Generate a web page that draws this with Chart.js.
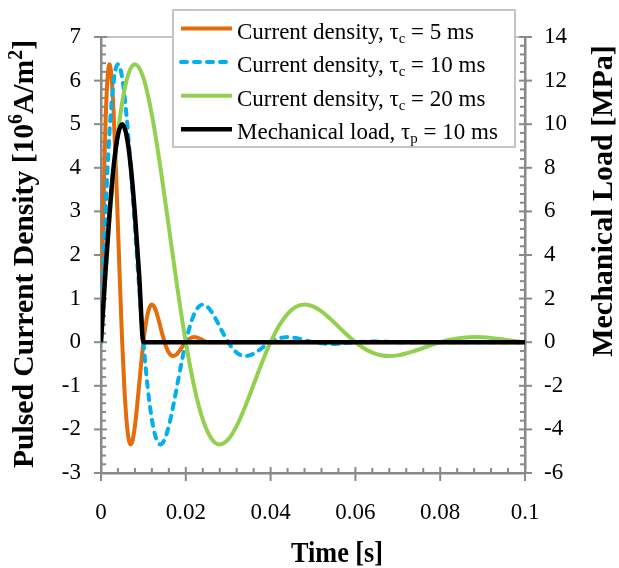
<!DOCTYPE html>
<html>
<head>
<meta charset="utf-8">
<script src="https://cdn.jsdelivr.net/npm/chart.js@4.4.1/dist/chart.umd.min.js"></script>
<style>
  html, body { margin: 0; padding: 0; background: #fff; }
</style>
</head>
<body>
<canvas id="pulseChart" width="619" height="568"></canvas>
<script>
// time in ms, current density in 10^6 A/m^2, load in MPa
const timeC5Ms = [0, 0.5, 1, 1.5, 2, 2.5, 3, 3.5, 4, 4.5,
  5, 5.5, 6, 6.5, 7, 7.5, 8, 8.5, 9, 9.5,
  10, 10.5, 11, 11.5, 12, 12.5, 13, 13.5, 14, 14.5,
  15, 15.5, 16, 16.5, 17, 17.5, 18, 18.5, 19, 19.5,
  20, 20.5, 21, 21.5, 22, 22.5, 23, 23.5, 24, 24.5,
  25, 100];
const jC5 = [0, 2.796, 4.812, 5.993, 6.375, 6.065, 5.219, 4.017, 2.641, 1.256,
  0, -1.029, -1.770, -2.205, -2.345, -2.231, -1.920, -1.478, -0.972, -0.462,
  0, 0.378, 0.651, 0.811, 0.863, 0.821, 0.706, 0.544, 0.357, 0.170,
  0, -0.139, -0.240, -0.298, -0.317, -0.302, -0.260, -0.200, -0.131, -0.063,
  0, 0.051, 0.088, 0.110, 0.117, 0.111, 0.096, 0.074, 0.048, 0.023,
  0, 0];

const timeC10Ms = [0, 1, 2, 3, 4, 5, 6, 7, 8, 9,
  10, 11, 12, 13, 14, 15, 16, 17, 18, 19,
  20, 21, 22, 23, 24, 25, 26, 27, 28, 29,
  30, 31, 32, 33, 34, 35, 36, 37, 38, 39,
  40, 41, 42, 43, 44, 45, 46, 47, 48, 49,
  50, 55, 60, 65, 70, 100];
const jC10 = [0, 2.796, 4.812, 5.993, 6.375, 6.065, 5.219, 4.017, 2.641, 1.256,
  0, -1.029, -1.770, -2.205, -2.345, -2.231, -1.920, -1.478, -0.972, -0.462,
  0, 0.378, 0.651, 0.811, 0.863, 0.821, 0.706, 0.544, 0.357, 0.170,
  0, -0.139, -0.240, -0.298, -0.317, -0.302, -0.260, -0.200, -0.131, -0.063,
  0, 0.051, 0.088, 0.110, 0.117, 0.111, 0.096, 0.074, 0.048, 0.023,
  0, -0.041, 0, 0.015, 0, 0];

const timeC20Ms = [0, 2, 4, 6, 8, 10, 12, 14, 16, 18,
  20, 22, 24, 26, 28, 30, 32, 34, 36, 38,
  40, 42, 44, 46, 48, 50, 52, 54, 56, 58,
  60, 62, 64, 66, 68, 70, 72, 74, 76, 78,
  80, 82, 84, 86, 88, 90, 92, 94, 96, 98,
  100];
const jC20 = [0, 2.796, 4.812, 5.993, 6.375, 6.065, 5.219, 4.017, 2.641, 1.256,
  0, -1.029, -1.770, -2.205, -2.345, -2.231, -1.920, -1.478, -0.972, -0.462,
  0, 0.378, 0.651, 0.811, 0.863, 0.821, 0.706, 0.544, 0.357, 0.170,
  0, -0.139, -0.240, -0.298, -0.317, -0.302, -0.260, -0.200, -0.131, -0.063,
  0, 0.051, 0.088, 0.110, 0.117, 0.111, 0.096, 0.074, 0.048, 0.023,
  0];

const loadTimeMs = [0, 1, 2, 3, 4, 5, 6, 7, 8, 9, 10, 100];
const loadMPa = [0, 3.09, 5.88, 8.09, 9.51, 10, 9.51, 8.09, 5.88, 3.09, 0, 0];

const seriesLabels = [
  'Current density, τ_c = 5 ms',
  'Current density, τ_c = 10 ms',
  'Current density, τ_c = 20 ms',
  'Mechanical load, τ_p = 10 ms'
];
const xTitle = 'Time [s]';
const yTitle = 'Pulsed Current Density [10^6A/m^2]';
const y2Title = 'Mechanical Load [MPa]';

const serif = '"Liberation Serif", "Times New Roman", serif';
const axisGrey = '#898989';
const frameGrey = '#c4c4c4';

function toPoints(timesMs, values) {
  return timesMs.map((t, i) => ({ x: t / 1000, y: values[i] }));
}

// text with ^x (superscript) and _x (subscript) markers
function splitRich(text) {
  const parts = [];
  let buf = '';
  for (let i = 0; i < text.length; i++) {
    const c = text[i];
    if ((c === '^' || c === '_') && i + 1 < text.length) {
      if (buf) parts.push({ t: buf, mode: 'n' });
      buf = '';
      parts.push({ t: text[i + 1], mode: c === '^' ? 'sup' : 'sub' });
      i++;
    } else {
      buf += c;
    }
  }
  if (buf) parts.push({ t: buf, mode: 'n' });
  return parts;
}

function drawRich(ctx, text, x, y, size, bold, align, maxWidth) {
  const weight = bold ? 'bold ' : '';
  const small = Math.round(size * 0.66);
  const parts = splitRich(text);
  let total = 0;
  parts.forEach(p => {
    ctx.font = weight + (p.mode === 'n' ? size : small) + 'px ' + serif;
    p.w = ctx.measureText(p.t).width;
    total += p.w;
  });
  ctx.save();
  ctx.translate(x, y);
  let sx = 1;
  if (maxWidth && total > maxWidth) sx = maxWidth / total;
  ctx.scale(sx, 1);
  let cx = align === 'center' ? -total / 2 : 0;
  ctx.textAlign = 'left';
  ctx.textBaseline = 'alphabetic';
  ctx.fillStyle = '#000';
  parts.forEach(p => {
    ctx.font = weight + (p.mode === 'n' ? size : small) + 'px ' + serif;
    let dy = 0;
    if (p.mode === 'sup') dy = -size * 0.36;
    if (p.mode === 'sub') dy = size * 0.18;
    ctx.fillText(p.t, cx, dy);
    cx += p.w;
  });
  ctx.restore();
}

function strokeLine(ctx, x1, y1, x2, y2) {
  ctx.beginPath();
  ctx.moveTo(x1, y1);
  ctx.lineTo(x2, y2);
  ctx.stroke();
}

// plot frame top edge, major and minor tick marks
const axisTicks = {
  id: 'axisTicks',
  beforeDatasetsDraw(chart) {
    const { ctx, chartArea: area, scales } = chart;
    ctx.save();
    ctx.lineWidth = 2;
    ctx.strokeStyle = frameGrey;
    strokeLine(ctx, area.left, area.top, area.right, area.top);
    ctx.strokeStyle = axisGrey;
    for (let ms = 0; ms <= 100; ms += 4) {
      const px = scales.x.getPixelForValue(ms / 1000);
      const major = ms % 20 === 0;
      strokeLine(ctx, px, area.bottom - (major ? 6 : 5), px, area.bottom + (major ? 8 : 0));
    }
    for (let k = -15; k <= 35; k++) {
      const major = k % 5 === 0;
      const py = scales.y.getPixelForValue(k / 5);
      strokeLine(ctx, area.left - (major ? 7 : 0), py, area.left + (major ? 6 : 5), py);
      const py2 = scales.y2.getPixelForValue(k * 0.4);
      strokeLine(ctx, area.right - (major ? 6 : 5), py2, area.right + (major ? 7 : 0), py2);
    }
    ctx.restore();
  }
};

// axis titles and the boxed legend
const annotations = {
  id: 'annotations',
  afterDraw(chart) {
    const ctx = chart.ctx;
    drawRich(ctx, xTitle, 337, 562, 30, true, 'center', 92);

    ctx.save();
    ctx.translate(33, 254);
    ctx.rotate(-Math.PI / 2);
    drawRich(ctx, yTitle, 0, 0, 30, true, 'center', 428);
    ctx.restore();

    ctx.save();
    ctx.translate(612, 201);
    ctx.rotate(-Math.PI / 2);
    drawRich(ctx, y2Title, 0, 0, 30, true, 'center', 323);
    ctx.restore();

    ctx.save();
    ctx.fillStyle = '#fff';
    ctx.fillRect(173, 10, 342, 137);
    ctx.strokeStyle = frameGrey;
    ctx.lineWidth = 2;
    ctx.strokeRect(173, 10, 342, 137);
    chart.data.datasets.forEach((ds, i) => {
      const base = 38.5 + i * 33.6;
      ctx.strokeStyle = ds.borderColor;
      ctx.lineWidth = ds.borderWidth;
      ctx.lineCap = ds.borderCapStyle || 'butt';
      ctx.setLineDash(ds.borderDash || []);
      strokeLine(ctx, 181, base - 10, 232, base - 10);
      ctx.setLineDash([]);
      drawRich(ctx, ds.label, 237, base, 23, false, 'left');
    });
    ctx.restore();
  }
};

const tickFont = { family: serif, size: 23 };

new Chart(document.getElementById('pulseChart'), {
  type: 'line',
  data: {
    datasets: [
      {
        label: seriesLabels[0],
        data: toPoints(timeC5Ms, jC5),
        borderColor: '#E46C0A',
        borderWidth: 4,
        order: 4,
        yAxisID: 'y'
      },
      {
        label: seriesLabels[1],
        data: toPoints(timeC10Ms, jC10),
        borderColor: '#00B0F0',
        borderWidth: 4,
        borderDash: [6, 7],
        borderCapStyle: 'round',
        order: 3,
        yAxisID: 'y'
      },
      {
        label: seriesLabels[2],
        data: toPoints(timeC20Ms, jC20),
        borderColor: '#92D050',
        borderWidth: 4,
        order: 2,
        yAxisID: 'y'
      },
      {
        label: seriesLabels[3],
        data: toPoints(loadTimeMs, loadMPa),
        borderColor: '#000000',
        borderWidth: 4.5,
        order: 1,
        yAxisID: 'y2'
      }
    ]
  },
  options: {
    responsive: false,
    animation: false,
    events: [],
    layout: { padding: { top: 37, left: 0, right: 0, bottom: 0 } },
    elements: {
      point: { radius: 0 },
      line: { cubicInterpolationMode: 'monotone', fill: false }
    },
    plugins: {
      legend: { display: false },
      tooltip: { enabled: false }
    },
    scales: {
      x: {
        type: 'linear',
        min: 0,
        max: 0.1,
        afterFit: scale => { scale.height = 95; },
        ticks: {
          stepSize: 0.02,
          padding: 26,
          color: '#000',
          font: tickFont,
          maxRotation: 0,
          autoSkip: false,
          callback: v => String(Number(v.toFixed(4)))
        },
        grid: { drawOnChartArea: false, drawTicks: false },
        border: { color: axisGrey, width: 2.5 }
      },
      y: {
        position: 'left',
        min: -3,
        max: 7,
        afterFit: scale => { scale.width = 101; },
        ticks: {
          stepSize: 1,
          padding: 20,
          color: '#000',
          font: tickFont,
          callback: v => String(v)
        },
        grid: { drawOnChartArea: false, drawTicks: false },
        border: { color: axisGrey, width: 2.5 }
      },
      y2: {
        position: 'right',
        min: -6,
        max: 14,
        afterFit: scale => { scale.width = 94; },
        ticks: {
          stepSize: 2,
          padding: 19,
          color: '#000',
          font: tickFont,
          callback: v => String(v)
        },
        grid: { drawOnChartArea: false, drawTicks: false },
        border: { color: axisGrey, width: 2.5 }
      }
    }
  },
  plugins: [axisTicks, annotations]
});
</script>
</body>
</html>
